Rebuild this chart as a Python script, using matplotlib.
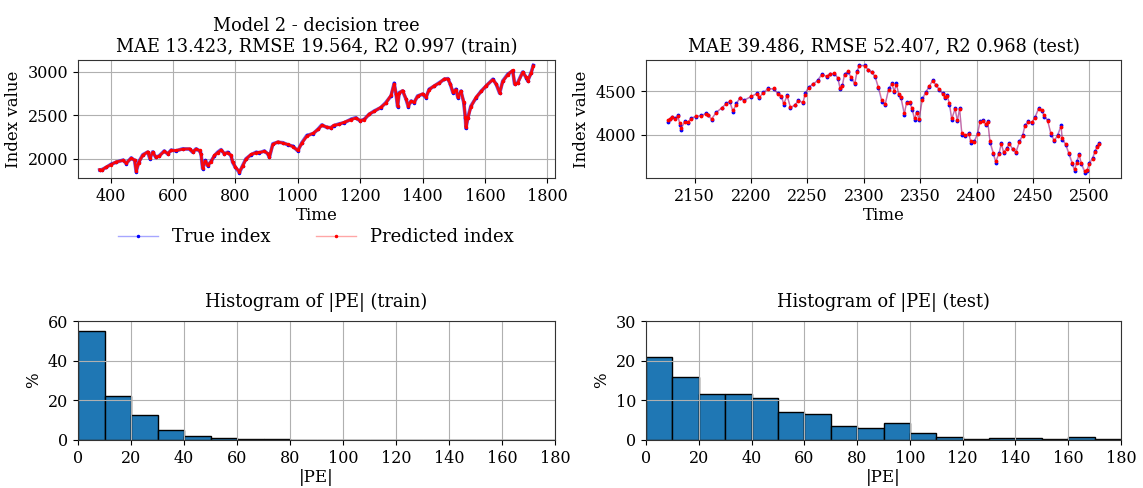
import matplotlib
matplotlib.use("Agg")
import matplotlib.pyplot as plt
from matplotlib.lines import Line2D

plt.rcParams['font.family'] = ['DejaVu Serif']
plt.rcParams['axes.edgecolor'] = '0.2'

# ---------------- data ----------------
train_time = [365, 372, 386, 400, 418, 440, 450, 466, 477, 482, 490, 503, 519, 526, 535, 545,
              556, 572, 583, 594, 610, 631, 653, 663, 674, 685, 690, 695, 704, 711, 722, 733,
              743, 754, 765, 775, 786, 791, 800, 813, 823, 834, 850, 866, 877, 893, 904, 909,
              920, 936, 952, 968, 984, 1000, 1013, 1029, 1050, 1066, 1077, 1093, 1106, 1115,
              1131, 1149, 1170, 1186, 1200, 1213, 1229, 1245, 1266, 1282, 1299, 1309, 1315,
              1320, 1325, 1336, 1347, 1354, 1363, 1373, 1384, 1400, 1411, 1421, 1438, 1454,
              1470, 1481, 1489, 1497, 1507, 1513, 1523, 1532, 1537, 1539, 1545, 1555, 1572,
              1588, 1604, 1625, 1636, 1647, 1657, 1673, 1689, 1695, 1705, 1721, 1732, 1737,
              1748, 1755]
train_true = [1870, 1875, 1900, 1934, 1960, 1985, 1945, 2010, 1980, 1850, 1960, 2046, 2076, 2000,
              2080, 2015, 2035, 2090, 2055, 2100, 2090, 2115, 2110, 2075, 2115, 2090, 2055, 1885,
              1980, 1920, 1970, 2035, 2075, 2105, 2055, 2075, 2035, 1960, 1900, 1840, 1920, 2000,
              2045, 2075, 2068, 2090, 2055, 2015, 2172, 2190, 2185, 2160, 2145, 2090, 2185, 2268,
              2290, 2345, 2390, 2360, 2358, 2380, 2400, 2415, 2454, 2473, 2435, 2454, 2512, 2550,
              2588, 2646, 2723, 2870, 2742, 2600, 2762, 2780, 2685, 2600, 2665, 2646, 2723, 2742,
              2704, 2800, 2838, 2877, 2915, 2923, 2858, 2762, 2800, 2704, 2780, 2646, 2473, 2350,
              2473, 2608, 2704, 2780, 2838, 2915, 2858, 2754, 2896, 2973, 3012, 2858, 2877, 3000,
              2935, 2896, 2992, 3075]
train_pred = [1875, 1870, 1905, 1930, 1965, 1980, 1950, 2005, 1985, 1860, 1955, 2040, 2080, 2010,
              2075, 2020, 2030, 2085, 2060, 2095, 2095, 2110, 2115, 2080, 2110, 2095, 2050, 1895,
              1975, 1925, 1965, 2040, 2070, 2100, 2060, 2070, 2040, 1965, 1905, 1850, 1915, 1995,
              2050, 2070, 2072, 2085, 2060, 2020, 2165, 2195, 2180, 2165, 2140, 2095, 2180, 2260,
              2295, 2340, 2385, 2365, 2355, 2385, 2395, 2420, 2450, 2468, 2440, 2450, 2515, 2545,
              2592, 2640, 2730, 2860, 2750, 2610, 2755, 2785, 2690, 2610, 2660, 2650, 2718, 2748,
              2710, 2795, 2842, 2872, 2920, 2918, 2862, 2770, 2795, 2712, 2775, 2655, 2480, 2365,
              2465, 2600, 2710, 2775, 2842, 2910, 2862, 2760, 2890, 2968, 3018, 2865, 2872, 2995,
              2940, 2900, 2985, 3070]

test_time = [2126, 2128, 2130, 2133, 2135, 2137, 2138, 2141, 2144, 2147, 2151, 2156, 2160, 2162,
             2165, 2169, 2174, 2178, 2181, 2184, 2187, 2190, 2194, 2200, 2205, 2207, 2211, 2215,
             2220, 2224, 2227, 2229, 2232, 2235, 2239, 2242, 2246, 2248, 2251, 2255, 2259, 2263,
             2267, 2270, 2274, 2277, 2279, 2281, 2283, 2286, 2289, 2292, 2294, 2296, 2301, 2304,
             2307, 2310, 2313, 2316, 2319, 2322, 2325, 2327, 2329, 2331, 2333, 2336, 2338, 2341,
             2343, 2345, 2347, 2349, 2352, 2355, 2358, 2361, 2364, 2367, 2370, 2372, 2374, 2376,
             2378, 2381, 2383, 2385, 2387, 2390, 2393, 2395, 2398, 2401, 2403, 2406, 2408, 2410,
             2412, 2415, 2417, 2420, 2422, 2424, 2427, 2429, 2432, 2435, 2438, 2441, 2443, 2446,
             2449, 2452, 2455, 2458, 2460, 2463, 2466, 2469, 2472, 2475, 2476, 2479, 2482, 2485,
             2487, 2489, 2491, 2493, 2496, 2498, 2500, 2503, 2505, 2507, 2509]
test_true = [4140, 4182, 4197, 4190, 4220, 4114, 4057, 4151, 4133, 4190, 4208, 4220, 4246, 4220,
             4170, 4258, 4303, 4360, 4379, 4258, 4360, 4417, 4398, 4436, 4473, 4417, 4485, 4530,
             4523, 4473, 4436, 4341, 4455, 4303, 4341, 4398, 4360, 4473, 4549, 4576, 4625, 4700,
             4663, 4700, 4700, 4644, 4523, 4568, 4700, 4720, 4644, 4576, 4727, 4795, 4795, 4739,
             4720, 4663, 4530, 4379, 4341, 4530, 4587, 4492, 4587, 4455, 4417, 4227, 4379, 4360,
             4284, 4170, 4265, 4170, 4417, 4492, 4549, 4625, 4568, 4511, 4473, 4417, 4455, 4341,
             4170, 4303, 4151, 4303, 4000, 3981, 4019, 3905, 3924, 4019, 4151, 4170, 4114, 4151,
             3905, 3773, 3678, 3792, 3905, 3792, 3848, 3905, 3830, 3792, 3924, 4000, 4114, 4151,
             4133, 4208, 4303, 4273, 4208, 4170, 4000, 3924, 4000, 4106, 3943, 3886, 3773, 3659,
             3583, 3697, 3780, 3659, 3564, 3583, 3678, 3735, 3811, 3867, 3905]
test_pred = [4165, 4175, 4205, 4180, 4210, 4130, 4080, 4140, 4150, 4180, 4215, 4210, 4240, 4230,
             4185, 4250, 4310, 4350, 4385, 4280, 4345, 4425, 4390, 4440, 4465, 4430, 4480, 4520,
             4530, 4465, 4445, 4360, 4440, 4320, 4335, 4390, 4370, 4460, 4540, 4580, 4615, 4690,
             4670, 4695, 4705, 4655, 4540, 4560, 4690, 4725, 4660, 4590, 4715, 4790, 4790, 4745,
             4715, 4670, 4550, 4400, 4355, 4510, 4580, 4505, 4575, 4470, 4430, 4250, 4365, 4370,
             4300, 4190, 4250, 4185, 4400, 4480, 4555, 4615, 4575, 4520, 4465, 4430, 4445, 4360,
             4190, 4290, 4170, 4290, 4020, 3995, 4010, 3925, 3915, 4005, 4140, 4160, 4125, 4140,
             3925, 3790, 3700, 3780, 3890, 3805, 3840, 3895, 3840, 3805, 3910, 3990, 4100, 4140,
             4145, 4195, 4290, 4285, 4220, 4160, 4020, 3935, 3990, 4090, 3960, 3895, 3790, 3680,
             3600, 3680, 3765, 3675, 3585, 3595, 3665, 3720, 3800, 3855, 3890]

bin_edges = [0, 10, 20, 30, 40, 50, 60, 70, 80, 90, 100, 110, 120, 130, 140, 150, 160, 170, 180]
hist_train_pct = [55.0, 22.3, 12.4, 5.0, 2.0, 1.0, 0.5, 0.5, 0, 0, 0, 0, 0, 0, 0, 0, 0, 0]
hist_test_pct = [20.8, 15.9, 11.7, 11.7, 10.5, 7.0, 6.5, 3.5, 3.0, 4.3, 1.8, 0.8, 0.3, 0.5, 0.5,
                 0.3, 0.8, 0.3]

titles = ["Model 2 - decision tree\nMAE 13.423, RMSE 19.564, R2 0.997 (train)",
          "MAE 39.486, RMSE 52.407, R2 0.968 (test)",
          "Histogram of |PE| (train)", "Histogram of |PE| (test)"]

# ---------------- figure ----------------
W, H = 1143, 488
fig = plt.figure(figsize=(W / 100, H / 100), dpi=100)

def rect(x0, x1, y0, y1):
    return [x0 / W, 1 - y1 / H, (x1 - x0) / W, (y1 - y0) / H]

ax1 = fig.add_axes(rect(78, 555, 60, 178))
ax2 = fig.add_axes(rect(646, 1121, 60, 178))
ax3 = fig.add_axes(rect(78, 555, 321, 440))
ax4 = fig.add_axes(rect(646, 1121, 321, 440))

TICK = 11.5
LAB = 12
TIT = 12.8

blue_line = (0, 0, 1, 0.35)
red_line = (1, 0, 0, 0.35)

# train series (dense band)
ax1.plot(train_time, train_true, color=(0, 0, 1, 0.6), lw=2.6, marker='.', ms=3,
         mfc='blue', mec='blue')
ax1.plot(train_time, train_pred, color=(1, 0, 0, 0.9), lw=2.0, marker='.', ms=3,
         mfc='red', mec='red')

# test series
ax2.plot(test_time, test_true, color=blue_line, lw=1.0, marker='.', ms=3.5,
         mfc='blue', mec='blue')
ax2.plot(test_time, test_pred, color=red_line, lw=1.0, marker='.', ms=3.5,
         mfc='red', mec='red')

for ax, t in zip([ax1, ax2], titles[:2]):
    ax.set_title(t, fontsize=TIT)
    ax.set_xlabel("Time", fontsize=LAB, labelpad=2)
    ax.set_ylabel("Index value", fontsize=LAB)
    ax.grid(True)
    ax.tick_params(labelsize=TICK)

ax1.set_xticks([400, 600, 800, 1000, 1200, 1400, 1600, 1800])
ax1.set_yticks([2000, 2500, 3000])
ax2.set_xticks([2150, 2200, 2250, 2300, 2350, 2400, 2450, 2500])
ax2.set_yticks([4000, 4500])

handles = [Line2D([], [], color=blue_line, lw=1.0, marker='.', ms=3, mfc='blue', mec='blue'),
           Line2D([], [], color=red_line, lw=1.0, marker='.', ms=3, mfc='red', mec='red')]
fig.legend(handles, ["True index", "Predicted index"], loc='center',
           bbox_to_anchor=(316 / W, 1 - 237 / H), ncol=2, frameon=False,
           fontsize=13, columnspacing=2.5, handlelength=2.2)

# histograms
for ax, vals, t, ylim, yt in [(ax3, hist_train_pct, titles[2], 60, [0, 20, 40, 60]),
                              (ax4, hist_test_pct, titles[3], 30, [0, 10, 20, 30])]:
    ax.bar(bin_edges[:-1], vals, width=10, align='edge', color='#1f77b4',
           edgecolor='black', linewidth=1.0)
    ax.set_xlim(0, 180)
    ax.set_ylim(0, ylim)
    ax.set_yticks(yt)
    ax.set_xticks(range(0, 181, 20))
    ax.grid(True)
    ax.set_title(t, fontsize=TIT, pad=10)
    ax.set_xlabel("|PE|", fontsize=LAB, labelpad=2)
    ax.set_ylabel("%", fontsize=LAB)
    ax.tick_params(labelsize=TICK)

fig.savefig("out.png", dpi=100)
